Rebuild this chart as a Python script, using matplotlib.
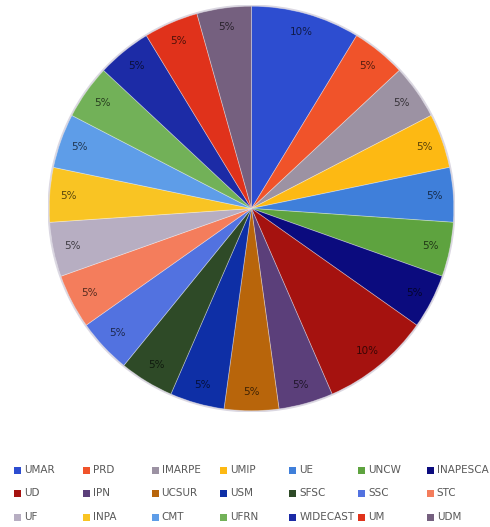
import matplotlib
matplotlib.use("Agg")
import matplotlib.pyplot as plt
import matplotlib.colors as mcolors
from matplotlib.patches import Rectangle
import numpy as np

# survey responses per institution
labels = ["UMAR", "PRD", "IMARPE", "UMIP", "UE", "UNCW", "INAPESCA",
          "UD", "IPN", "UCSUR", "USM", "SFSC", "SSC", "STC",
          "UF", "INPA", "CMT", "UFRN", "WIDECAST", "UM", "UDM"]
counts = [2, 1, 1, 1, 1, 1, 1,
          2, 1, 1, 1, 1, 1, 1,
          1, 1, 1, 1, 1, 1, 1]
pct_text = ["10%", "5%", "5%", "5%", "5%", "5%", "5%",
            "10%", "5%", "5%", "5%", "5%", "5%", "5%",
            "5%", "5%", "5%", "5%", "5%", "5%", "5%"]
colors = ["#2D4DD0", "#F0532A", "#9C92A3", "#FDB913", "#3F7FDA", "#5EA33F", "#0B0B7E",
          "#A5120F", "#5B3F7A", "#B8650B", "#0E2FA6", "#2E4A27", "#5272E0", "#F47D5C",
          "#B7AEC2", "#F9C423", "#5E9DE8", "#72B158", "#1C2BA6", "#E0321B", "#75607F"]


def darker(c, f=0.35):
    r, g, b = mcolors.to_rgb(c)
    return (r * f, g * f, b * f)


fig = plt.figure(figsize=(4.9, 5.27), dpi=100)
ax = fig.add_axes([47 / 490, 1 - 412 / 527, 409 / 490, 407 / 527])

wedges, _ = ax.pie(counts, colors=colors, startangle=90, counterclock=False,
                   radius=1.0, wedgeprops=dict(edgecolor=(1, 1, 1, 0.35), linewidth=0.6))
# soft rim around the pie
ax.add_patch(plt.Circle((0, 0), 1.004, fill=False, edgecolor="#8a7fa0", lw=1.2, alpha=0.3))

total = sum(counts)
start = 90.0
for w, txt, c in zip(counts, pct_text, colors):
    mid = start - w / total * 360 / 2
    start -= w / total * 360
    a = np.deg2rad(mid)
    ax.text(0.905 * np.cos(a), 0.905 * np.sin(a), txt, ha="center", va="center",
            fontsize=7.5, color=darker(c))

ax.set_xlim(-1.006, 1.006)
ax.set_ylim(-1.006, 1.006)
ax.axis("off")

# legend drawn as a 3 x 7 grid under the pie
W, H = 490, 527
row_y = [470, 493, 517]
for i, (lab, c) in enumerate(zip(labels, colors)):
    r, col = divmod(i, 7)
    x = 14 + col * 68.8
    y = row_y[r]
    fig.patches.append(Rectangle((x / W, 1 - (y + 3.5) / H), 7 / W, 7 / H,
                                 transform=fig.transFigure, facecolor=c, edgecolor="none"))
    fig.text((x + 10) / W, 1 - y / H, lab, fontsize=7.5, color="#595959",
             ha="left", va="center")

fig.savefig("out.png", dpi=100)
